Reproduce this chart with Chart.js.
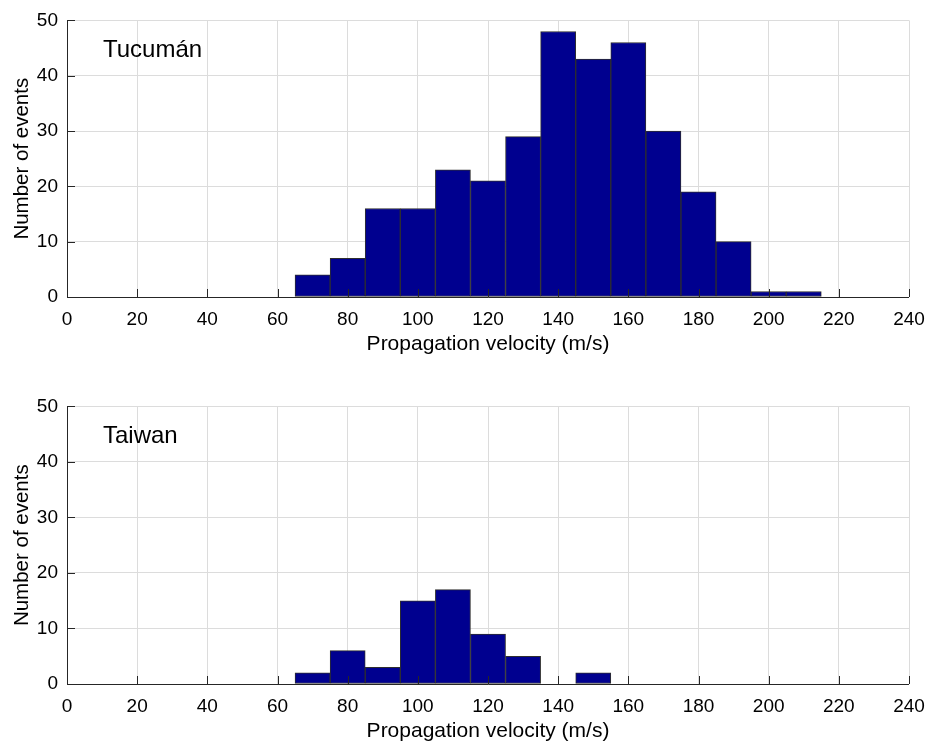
<!DOCTYPE html>
<html>
<head>
<meta charset="utf-8">
<script src="https://cdn.jsdelivr.net/npm/chart.js@4.4.0/dist/chart.umd.min.js"></script>
<style>
  body { margin: 0; background: #fff; width: 928px; height: 742px; position: relative; overflow: hidden; }
  .panel { position: absolute; left: 0; width: 928px; height: 362px; }
</style>
</head>
<body>
<div class="panel" style="top:0"><canvas id="tucuman" width="928" height="362"></canvas></div>
<div class="panel" style="top:386px"><canvas id="taiwan" width="928" height="356"></canvas></div>
<script>
// histogram bins are 10 m/s wide, given by their centres
const binCenters = [70, 80, 90, 100, 110, 120, 130, 140, 150, 160, 170, 180, 190, 200, 210];
const tucumanCounts = [4, 7, 16, 16, 23, 21, 29, 48, 43, 46, 30, 19, 10, 1, 1];
const taiwanCounts = [2, 6, 3, 15, 17, 9, 5, 0, 2, 0, 0, 0, 0, 0, 0];

const xTickValues = [0, 20, 40, 60, 80, 100, 120, 140, 160, 180, 200, 220, 240];
const yTickValues = [0, 10, 20, 30, 40, 50];

const FONT = "'Liberation Sans', Arial, Helvetica, sans-serif";
const AXIS_COLOR = "#262626";
const GRID_COLOR = "#dcdcdc";
const BAR_COLOR = "#00008f";

// matlab-style axes: ticks point inward, axis lines on top of the bars
const inwardTicks = {
  id: "inwardTicks",
  afterDatasetsDraw(chart) {
    const { ctx, chartArea: a, scales: { x, y } } = chart;
    ctx.save();
    ctx.strokeStyle = AXIS_COLOR;
    ctx.lineWidth = 1;
    ctx.beginPath();
    x.ticks.forEach((t) => {
      const px = Math.round(x.getPixelForValue(t.value)) + 0.5;
      ctx.moveTo(px, a.bottom);
      ctx.lineTo(px, a.bottom - 8);
    });
    y.ticks.forEach((t) => {
      const py = Math.round(y.getPixelForValue(t.value)) + 0.5;
      ctx.moveTo(a.left, py);
      ctx.lineTo(a.left + 8, py);
    });
    ctx.moveTo(a.left + 0.5, a.top);
    ctx.lineTo(a.left + 0.5, a.bottom + 0.5);
    ctx.lineTo(a.right, a.bottom + 0.5);
    ctx.stroke();
    ctx.restore();
  },
};

const panelLabel = {
  id: "panelLabel",
  afterDraw(chart, args, opts) {
    const { ctx, chartArea: a } = chart;
    ctx.save();
    ctx.font = "24px " + FONT;
    ctx.fillStyle = "#000";
    ctx.textBaseline = "alphabetic";
    ctx.fillText(opts.text, a.left + 36, a.top + 37);
    ctx.restore();
  },
};

function makeHistogram(canvas, label, counts, xAxisHeight) {
  const points = binCenters
    .map((c, i) => ({ x: c, y: counts[i] }))
    .filter((p) => p.y > 0);

  return new Chart(canvas, {
    type: "bar",
    data: {
      datasets: [
        {
          label,
          data: points,
          backgroundColor: BAR_COLOR,
          borderColor: "#2e2e2e",
          borderWidth: 1,
          borderSkipped: false,
          barPercentage: 1,
          categoryPercentage: 1,
        },
      ],
    },
    options: {
      responsive: false,
      animation: false,
      layout: { padding: { top: 20, right: 19, bottom: 0, left: 0 } },
      plugins: {
        legend: { display: false },
        tooltip: { enabled: false },
        panelLabel: { text: label },
      },
      scales: {
        x: {
          type: "linear",
          offset: false,
          min: 0,
          max: 240,
          afterBuildTicks: (s) => { s.ticks = xTickValues.map((v) => ({ value: v })); },
          afterFit: (s) => {
            s.height = xAxisHeight;
            s.paddingLeft = 0;
            s.paddingRight = 0;
          },
          grid: { color: GRID_COLOR, drawTicks: false, offset: false },
          border: { display: false },
          ticks: { color: "#000", padding: 11, maxRotation: 0, font: { family: FONT, size: 19 } },
          title: {
            display: true,
            text: "Propagation velocity (m/s)",
            color: "#000",
            padding: { top: 0, bottom: xAxisHeight - 60 },
            font: { family: FONT, size: 21 },
          },
        },
        y: {
          min: 0,
          max: 50,
          afterBuildTicks: (s) => { s.ticks = yTickValues.map((v) => ({ value: v })); },
          afterFit: (s) => { s.width = 67; },
          grid: { color: GRID_COLOR, drawTicks: false },
          border: { display: false },
          ticks: { color: "#000", padding: 9, font: { family: FONT, size: 19 } },
          title: {
            display: true,
            text: "Number of events",
            color: "#000",
            padding: { top: 10, bottom: 0 },
            font: { family: FONT, size: 20.5 },
          },
        },
      },
    },
    plugins: [inwardTicks, panelLabel],
  });
}

makeHistogram(document.getElementById("tucuman"), "Tucumán", tucumanCounts, 65);
makeHistogram(document.getElementById("taiwan"), "Taiwan", taiwanCounts, 58);
</script>
</body>
</html>
